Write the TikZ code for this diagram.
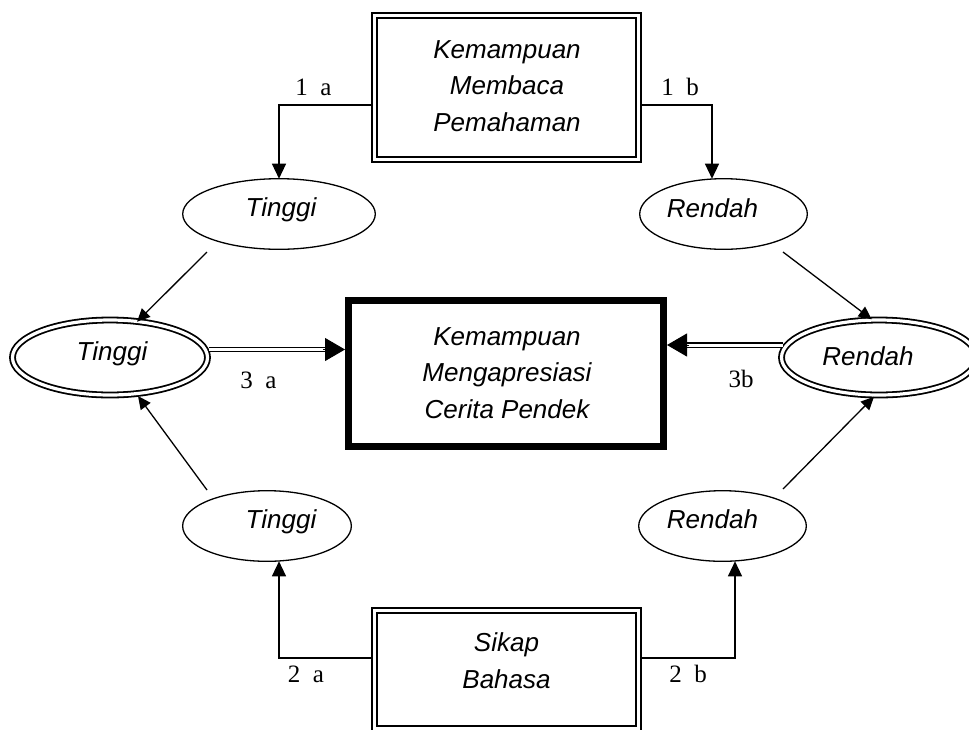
\documentclass[tikz,border=0pt]{standalone}
\usepackage{fontspec}
\setmainfont{Liberation Serif}
\newfontfamily\arialfont{Liberation Sans}
\usetikzlibrary{arrows.meta,calc,shapes.geometric}
\begin{document}
\begin{tikzpicture}[x=1pt,y=1pt,
  every node/.style={inner sep=0pt, outer sep=0pt},
  sfi/.style={font=\arialfont\itshape\fontsize{26}{36.5}\selectfont, align=center, anchor=base},
  lbl/.style={font=\fontsize{25}{28}\selectfont, anchor=base},
  oval/.style={draw, ellipse, line width=1.3pt},
  dbloval/.style={draw, ellipse, double, line width=1.8pt, double distance=3.2pt},
  dblbox/.style={draw, rectangle, double, line width=1.8pt, double distance=3.2pt},
  thickbox/.style={draw, rectangle, line width=7pt},
  arr/.style={line width=1.3pt, -{Triangle[length=15pt,width=14pt]}},
  darr/.style={line width=1.3pt, -{Triangle[length=13pt,width=12pt]}},
  dline/.style={draw, double, line width=1.3pt, double distance=3pt},
  bigtip/.style={line width=1pt, -{Triangle[length=20pt,width=23pt]}},
]
\useasboundingbox (0,0) rectangle (969,-729);
\clip (0,0) rectangle (969,-729);

% boxes
\node[dblbox, minimum width=264.25pt, minimum height=144pt] (TB) at (506.6,-87.5) {};
\node[thickbox, minimum width=315pt, minimum height=146pt] (C) at (506,-373.5) {};
\node[dblbox, minimum width=264pt, minimum height=118.2pt] (BB) at (506.8,-669.6) {};

% ellipses
\node[oval, minimum width=192.6pt, minimum height=70.6pt] (T1) at (279,-214) {};
\node[oval, minimum width=167.6pt, minimum height=70.6pt] (R1) at (723.5,-214) {};
\node[oval, minimum width=168.7pt, minimum height=70.6pt] (T2) at (267,-526) {};
\node[oval, minimum width=167.6pt, minimum height=70.6pt] (R2) at (722.5,-526) {};
\node[dbloval, minimum width=195pt, minimum height=75pt] (L) at (110,-357.5) {};
\node[dbloval, minimum width=195pt, minimum height=75pt] (R) at (879,-357.5) {};

% texts (anchor base = last line)
\node[sfi] (tbt) at (507,-131) {Kemampuan\\Membaca\\Pemahaman};
\node[sfi] (ct) at (507,-418) {Kemampuan\\Mengapresiasi\\Cerita Pendek};
\node[sfi] (bbt) at (506.5,-688) {Sikap\\Bahasa};
\node[sfi] (t1t) at (281,-216) {Tinggi};
\node[sfi] (r1t) at (712.5,-217) {Rendah};
\node[sfi] (t2t) at (281,-528) {Tinggi};
\node[sfi] (r2t) at (712.5,-528) {Rendah};
\node[sfi] (lt) at (112,-360) {Tinggi};
\node[sfi] (rt) at (868,-365) {Rendah};

% labels
\node[lbl] (l1a) at (313.5,-95) {1~~a};
\node[lbl] (l1b) at (680,-95) {1~~b};
\node[lbl] (l3a) at (258.5,-388) {3~~a};
\node[lbl] (l3b) at (741,-387) {3b};
\node[lbl] (l2a) at (306,-682) {2~~a};
\node[lbl] (l2b) at (688,-682) {2~~b};

% elbow connectors
\draw[arr] ([xshift=-2.5pt,yshift=-17.5pt]TB.west) -| (T1.north);
\draw[arr] ([xshift=2.5pt,yshift=-17.5pt]TB.east) -| ([xshift=-11.5pt]R1.north);
\draw[arr] ([xshift=-2.5pt,yshift=11.6pt]BB.west) -| ([xshift=12pt]T2.south);
\draw[arr] ([xshift=2.5pt,yshift=11.6pt]BB.east) -| ([xshift=12.5pt]R2.south);

% diagonal connectors
\coordinate (d1s) at (207,-252);
\coordinate (d2s) at (207,-490);
\coordinate (d3s) at (783,-252);
\coordinate (d4s) at (783,-489);
\draw[darr] (d1s) -- ($(L.center)+(27,35.8)$);
\draw[darr] (d2s) -- ($(L.center)+(28,-38.5)$);
\draw[darr] (d3s) -- ($(R.center)+(-7.3,38.2)$);
\draw[darr] (d4s) -- ($(R.center)+(-5,-39.2)$);

% double arrows
\coordinate (a3s) at ($(L.center)+(99,8)$);
\coordinate (a3e) at ([xshift=-3.5pt]C.west |- a3s);
\draw[dline, shorten >=19pt] (a3s) -- (a3e);
\draw[bigtip, shorten <=114pt] (a3s) -- (a3e);
\coordinate (b3s) at ($(R.center)+(-96,12.5)$);
\coordinate (b3e) at ([xshift=3.5pt]C.east |- b3s);
\draw[dline, shorten >=19pt] (b3s) -- (b3e);
\draw[bigtip, shorten <=94pt] (b3s) -- (b3e);
\end{tikzpicture}
\end{document}
